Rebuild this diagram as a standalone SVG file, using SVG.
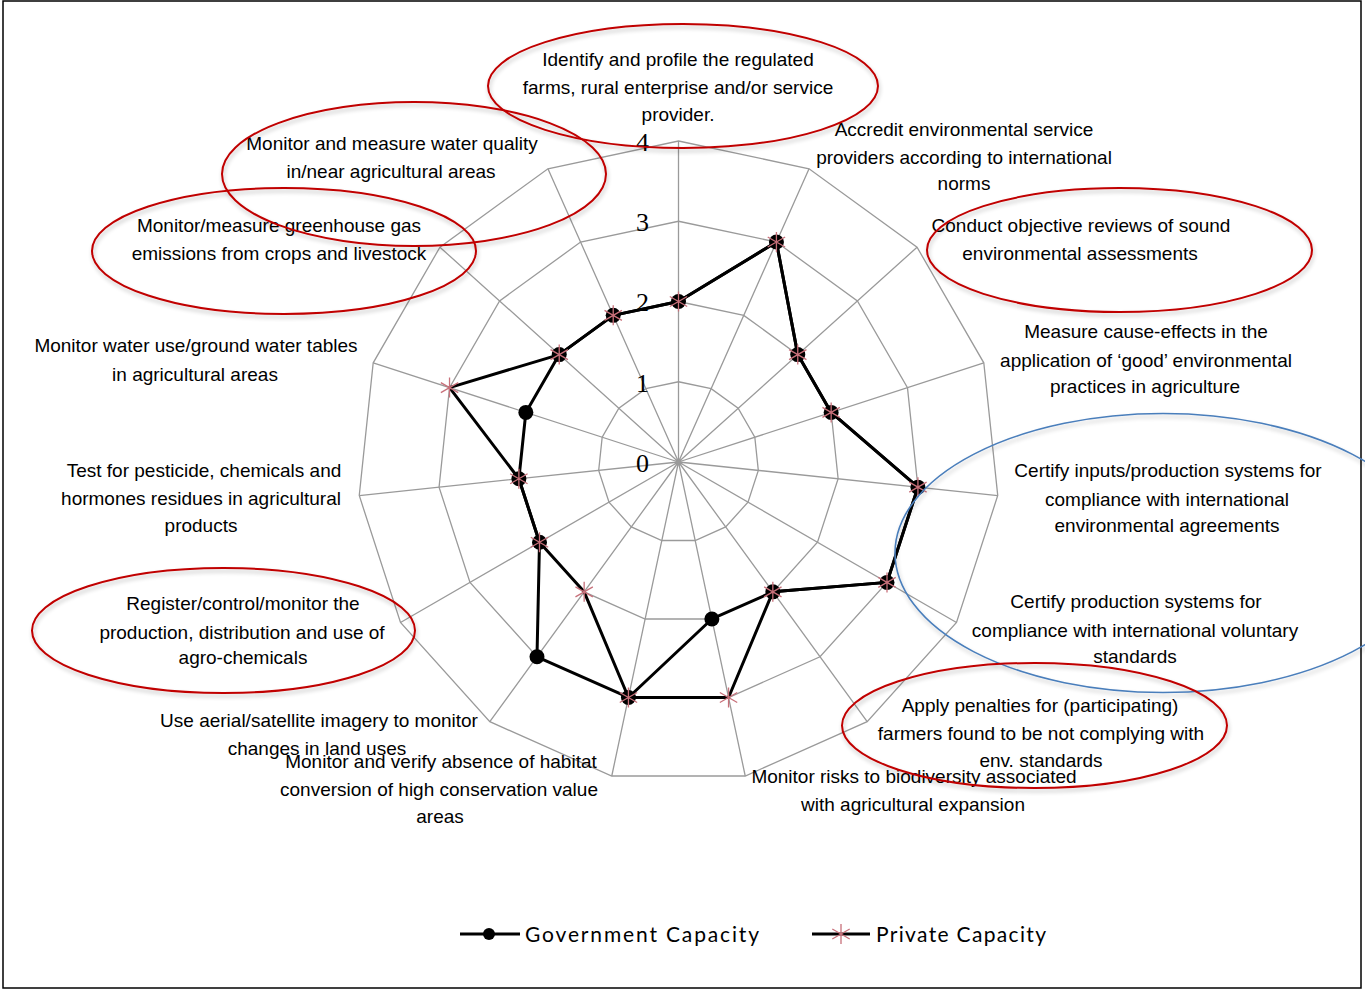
<svg xmlns="http://www.w3.org/2000/svg" width="1365" height="990" viewBox="0 0 1365 990">
<style>
.lbl{font-family:"Liberation Sans",Arial,sans-serif;font-size:19px;fill:#000;text-anchor:middle}
.num{font-family:"Liberation Serif","Times New Roman",serif;font-size:26px;fill:#000;text-anchor:end}
.leg{font-family:Lato,"Liberation Sans",sans-serif;font-size:21px;fill:#000}
.grid{fill:none;stroke:#9a9a9a;stroke-width:1.3}
.series{fill:none;stroke:#000;stroke-width:3;stroke-linejoin:round}
.red{fill:none;stroke:#c00000;stroke-width:2}
.blue{fill:none;stroke:#4a7ebb;stroke-width:1.6}
.star{stroke:#c8707a;stroke-width:1.3;fill:none}
</style>
<defs>
<filter id="sh" x="-10%" y="-10%" width="120%" height="130%">
<feGaussianBlur in="SourceAlpha" stdDeviation="2"/>
<feOffset dx="1" dy="3" result="b"/>
<feComponentTransfer><feFuncA type="linear" slope="0.25"/></feComponentTransfer>
<feMerge><feMergeNode/><feMergeNode in="SourceGraphic"/></feMerge>
</filter>
<g id="star"><path class="star" d="M0,-10V10M-8.7,-5L8.7,5M-8.7,5L8.7,-5"/></g>
</defs>
<rect x="0" y="0" width="1365" height="990" fill="#fff"/>
<rect x="3" y="1" width="1358" height="987" fill="none" stroke="#000" stroke-width="1.5"/>

<g id="grid" transform="translate(678.5,462)">
<polygon class="grid" points="0,-80.25 32.64,-73.31 59.64,-53.7 76.32,-24.8 79.81,8.39 69.5,40.13 47.17,64.92 16.68,78.5 -16.68,78.5 -47.17,64.92 -69.5,40.13 -79.81,8.39 -76.32,-24.8 -59.64,-53.7 -32.64,-73.31"/>
<polygon class="grid" points="0,-160.5 65.28,-146.63 119.27,-107.4 152.65,-49.6 159.62,16.78 139,80.25 94.34,129.85 33.37,156.99 -33.37,156.99 -94.34,129.85 -139,80.25 -159.62,16.78 -152.65,-49.6 -119.27,-107.4 -65.28,-146.63"/>
<polygon class="grid" points="0,-240.75 97.92,-219.94 178.91,-161.09 228.97,-74.4 239.43,25.17 208.5,120.38 141.51,194.77 50.05,235.49 -50.05,235.49 -141.51,194.77 -208.5,120.38 -239.43,25.17 -228.97,-74.4 -178.91,-161.09 -97.92,-219.94"/>
<polygon class="grid" points="0,-321 130.56,-293.25 238.55,-214.79 305.29,-99.2 319.24,33.55 278,160.5 188.68,259.7 66.74,313.99 -66.74,313.99 -188.68,259.7 -278,160.5 -319.24,33.55 -305.29,-99.2 -238.55,-214.79 -130.56,-293.25"/>
<path class="grid" d="M0,0L0,-321M0,0L130.56,-293.25M0,0L238.55,-214.79M0,0L305.29,-99.2M0,0L319.24,33.55M0,0L278,160.5M0,0L188.68,259.7M0,0L66.74,313.99M0,0L-66.74,313.99M0,0L-188.68,259.7M0,0L-278,160.5M0,0L-319.24,33.55M0,0L-305.29,-99.2M0,0L-238.55,-214.79M0,0L-130.56,-293.25"/>
</g>

<g id="axis-values">
<text class="num" x="649" y="472">0</text>
<text class="num" x="649" y="392">1</text>
<text class="num" x="649" y="311">2</text>
<text class="num" x="649" y="231">3</text>
<text class="num" x="649" y="151">4</text>
</g>

<g id="connectors" transform="translate(678.5,462)">
<polygon id="gov-line" class="series" points="0,-160.5 97.92,-219.94 119.27,-107.4 152.65,-49.6 239.43,25.17 208.5,120.38 94.34,129.85 33.37,156.99 -50.05,235.49 -141.51,194.77 -139,80.25 -159.62,16.78 -152.65,-49.6 -119.27,-107.4 -65.28,-146.63"/>
<polygon id="priv-line" class="series" points="0,-160.5 97.92,-219.94 119.27,-107.4 152.65,-49.6 239.43,25.17 208.5,120.38 94.34,129.85 50.05,235.49 -50.05,235.49 -94.34,129.85 -139,80.25 -159.62,16.78 -228.97,-74.4 -119.27,-107.4 -65.28,-146.63"/>
</g>

<g id="gov-markers" transform="translate(678.5,462)" fill="#000">
<circle r="7.5" cx="0" cy="-160.5"/><circle r="7.5" cx="97.92" cy="-219.94"/><circle r="7.5" cx="119.27" cy="-107.4"/><circle r="7.5" cx="152.65" cy="-49.6"/><circle r="7.5" cx="239.43" cy="25.17"/><circle r="7.5" cx="208.5" cy="120.38"/><circle r="7.5" cx="94.34" cy="129.85"/><circle r="7.5" cx="33.37" cy="156.99"/><circle r="7.5" cx="-50.05" cy="235.49"/><circle r="7.5" cx="-141.51" cy="194.77"/><circle r="7.5" cx="-139" cy="80.25"/><circle r="7.5" cx="-159.62" cy="16.78"/><circle r="7.5" cx="-152.65" cy="-49.6"/><circle r="7.5" cx="-119.27" cy="-107.4"/><circle r="7.5" cx="-65.28" cy="-146.63"/>
</g>
<g id="priv-markers" transform="translate(678.5,462)">
<use href="#star" x="0" y="-160.5"/><use href="#star" x="97.92" y="-219.94"/><use href="#star" x="119.27" y="-107.4"/><use href="#star" x="152.65" y="-49.6"/><use href="#star" x="239.43" y="25.17"/><use href="#star" x="208.5" y="120.38"/><use href="#star" x="94.34" y="129.85"/><use href="#star" x="50.05" y="235.49"/><use href="#star" x="-50.05" y="235.49"/><use href="#star" x="-94.34" y="129.85"/><use href="#star" x="-139" y="80.25"/><use href="#star" x="-159.62" y="16.78"/><use href="#star" x="-228.97" y="-74.4"/><use href="#star" x="-119.27" y="-107.4"/><use href="#star" x="-65.28" y="-146.63"/>
</g>

<g id="label-identify"><text class="lbl" x="678" y="66">Identify and profile the regulated</text><text class="lbl" x="678" y="94">farms, rural enterprise and/or service</text><text class="lbl" x="678" y="121">provider.</text></g>
<g id="label-accredit"><text class="lbl" x="964" y="136">Accredit environmental service</text><text class="lbl" x="964" y="164">providers according to international</text><text class="lbl" x="964" y="190">norms</text></g>
<g id="label-conduct"><text class="lbl" x="1081" y="232">Conduct objective reviews of sound</text><text class="lbl" x="1080" y="260">environmental assessments</text></g>
<g id="label-measure"><text class="lbl" x="1146" y="338">Measure cause-effects in the</text><text class="lbl" x="1146" y="367">application of ‘good’ environmental</text><text class="lbl" x="1145" y="393">practices in agriculture</text></g>
<g id="label-certify-inputs"><text class="lbl" x="1168" y="477">Certify inputs/production systems for</text><text class="lbl" x="1167" y="506">compliance with international</text><text class="lbl" x="1167" y="532">environmental agreements</text></g>
<g id="label-certify-production"><text class="lbl" x="1136" y="608">Certify production systems for</text><text class="lbl" x="1135" y="637">compliance with international voluntary</text><text class="lbl" x="1135" y="663">standards</text></g>
<g id="label-penalties"><text class="lbl" x="1040" y="712">Apply penalties for (participating)</text><text class="lbl" x="1041" y="740">farmers found to be not complying with</text><text class="lbl" x="1041" y="767">env. standards</text></g>
<g id="label-biodiversity"><text class="lbl" x="914" y="783">Monitor risks to biodiversity associated</text><text class="lbl" x="913" y="811">with agricultural expansion</text></g>
<g id="label-habitat"><text class="lbl" x="441" y="768">Monitor and verify absence of habitat</text><text class="lbl" x="439" y="796">conversion of high conservation value</text><text class="lbl" x="440" y="823">areas</text></g>
<g id="label-aerial"><text class="lbl" x="319" y="727">Use aerial/satellite imagery to monitor</text><text class="lbl" x="317" y="755">changes in land uses</text></g>
<g id="label-register"><text class="lbl" x="243" y="610">Register/control/monitor the</text><text class="lbl" x="242" y="639">production, distribution and use of</text><text class="lbl" x="243" y="664">agro-chemicals</text></g>
<g id="label-test"><text class="lbl" x="204" y="477">Test for pesticide, chemicals and</text><text class="lbl" x="201" y="505">hormones residues in agricultural</text><text class="lbl" x="201" y="532">products</text></g>
<g id="label-water-use"><text class="lbl" x="196" y="352">Monitor water use/ground water tables</text><text class="lbl" x="195" y="381">in agricultural areas</text></g>
<g id="label-greenhouse"><text class="lbl" x="279" y="232">Monitor/measure greenhouse gas</text><text class="lbl" x="279" y="260">emissions from crops and livestock</text></g>
<g id="label-water-quality"><text class="lbl" x="392" y="150">Monitor and measure water quality</text><text class="lbl" x="391" y="178">in/near agricultural areas</text></g>

<g id="highlights" filter="url(#sh)">
<ellipse class="red" cx="683" cy="86" rx="195" ry="62"/>
<ellipse class="red" cx="414" cy="174" rx="192" ry="72"/>
<ellipse class="red" cx="284" cy="251" rx="192" ry="63"/>
<ellipse class="red" cx="1119.5" cy="250" rx="192.5" ry="62"/>
<ellipse class="blue" cx="1163" cy="553" rx="268" ry="139.5"/>
<ellipse class="red" cx="1034.5" cy="725.5" rx="192.5" ry="62.5"/>
<ellipse class="red" cx="223.5" cy="630.5" rx="191.5" ry="62.5"/>
</g>

<g id="legend">
<line x1="460" y1="934" x2="520" y2="934" stroke="#000" stroke-width="3"/>
<circle cx="489" cy="934" r="6" fill="#000"/>
<text class="leg" x="525" y="942" textLength="234" lengthAdjust="spacing">Government Capacity</text>
<line x1="812" y1="934" x2="870" y2="934" stroke="#000" stroke-width="3"/>
<use href="#star" x="841" y="934"/>
<text class="leg" x="876" y="942" textLength="170" lengthAdjust="spacing">Private Capacity</text>
</g>
</svg>
